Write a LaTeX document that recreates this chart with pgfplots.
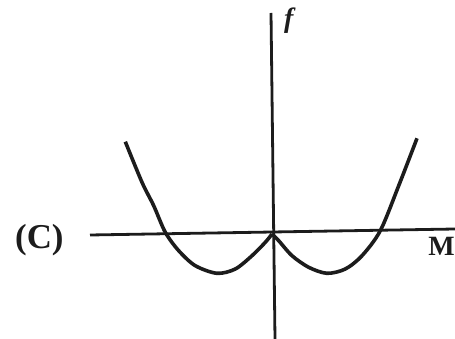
\documentclass[border=0pt]{standalone}
\usepackage{fontspec}
\setmainfont{Liberation Serif}
\usepackage{pgfplots}
\pgfplotsset{compat=1.18}
\definecolor{ink}{HTML}{1C1C1C}

\begin{document}
\begin{tikzpicture}
\begin{axis}[
  scale only axis,
  width=455bp, height=339bp,
  xmin=-272, xmax=183,
  ymin=-105, ymax=234,
  hide axis,
  clip=false,
]
% axes
\addplot[ink, line width=2.8bp] coordinates {(-182,-1) (183,5)};
\addplot[ink, line width=2.8bp] coordinates {(-1,221) (3,-105)};
% left branch
\addplot[ink, line width=3.6bp, smooth, tension=0.5] coordinates {
  (-146.7,92.3) (-130,51.7) (-118.3,28.3) (-106.7,1.7) (-93.3,-16.7)
  (-76.7,-31.7) (-55,-39.3) (-36.7,-35) (-20,-21.7) (-6.7,-8.3) (0,0)
};
% right branch
\addplot[ink, line width=3.6bp, smooth, tension=0.5] coordinates {
  (0,0) (6.7,-6.7) (20,-21.7) (36.7,-33.3) (55,-39.3) (73.3,-35)
  (90,-21.7) (108.3,3.3) (126.7,48.3) (145,95.7)
};
\node[ink, inner sep=0pt, font=\fontsize{35}{35}\selectfont\bfseries, anchor=base west]
  at (axis cs:-257,-15) {(C)};
\node[ink, inner sep=0pt, font=\fontsize{28}{28}\selectfont\bfseries, anchor=base east]
  at (axis cs:183,-22) {M};
\node[ink, inner sep=0pt, font=\fontsize{28}{28}\selectfont\bfseries\itshape, anchor=base west]
  at (axis cs:12,206) {f};
\end{axis}
\pgfresetboundingbox
\path (current axis.south west) rectangle (current axis.north east);
\end{tikzpicture}
\end{document}
